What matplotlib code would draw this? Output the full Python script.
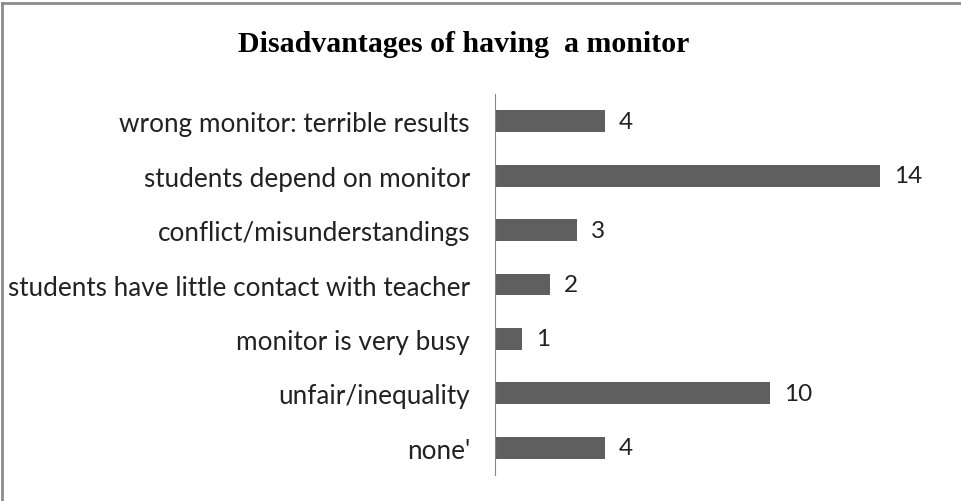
import matplotlib.pyplot as plt
from matplotlib.lines import Line2D

categories = ["wrong monitor: terrible results", "students depend on monitor",
              "conflict/misunderstandings", "students have little contact with teacher",
              "monitor is very busy", "unfair/inequality", "none'"]
counts = [4, 14, 3, 2, 1, 10, 4]

fig = plt.figure(figsize=(9.62, 5.02), dpi=100)
ax = fig.add_axes([495 / 962, 1 - 476 / 502, 440 / 962, 381 / 502])

ypos = list(range(len(categories)))[::-1]
ax.barh(ypos, counts, height=0.4, color="#5f5f5f")
for y, v in zip(ypos, counts):
    ax.text(v + 0.5, y, str(v), va="center", ha="left", fontsize=17.5,
            family="Lato", color="#222222")

ax.set_xlim(0, 16)
ax.set_ylim(-0.5, 6.5)
ax.set_yticks(ypos)
ax.set_yticklabels(categories, fontsize=18.8, family="Lato", color="#222222")
ax.tick_params(axis="y", length=0, pad=18)
ax.set_xticks([])
for side in ["top", "right", "bottom"]:
    ax.spines[side].set_visible(False)
ax.spines["left"].set_color("#888888")

fig.text(464 / 962, 1 - 44 / 502, "Disadvantages of having  a monitor",
         ha="center", va="center", fontsize=21.5, fontweight="bold",
         family="Liberation Serif")

# chart frame (only top and left edges visible)
fig.add_artist(Line2D([0.002, 0.002], [0, 0.992], transform=fig.transFigure,
                      color="#8c8c8c", lw=2))
fig.add_artist(Line2D([0.002, 1], [0.992, 0.992], transform=fig.transFigure,
                      color="#8c8c8c", lw=2))

fig.savefig("out.png", dpi=100)
